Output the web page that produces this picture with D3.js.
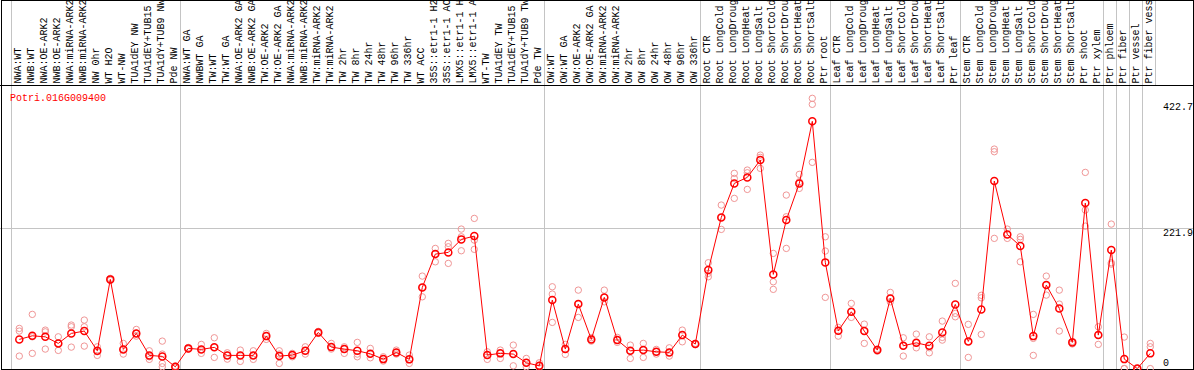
<!DOCTYPE html>
<html>
<head>
<meta charset="utf-8">
<script src="https://cdn.jsdelivr.net/npm/d3@7"></script>
<style>
  body { margin: 0; background: #fff; }
  svg { display: block; font-family: 'Liberation Mono', 'DejaVu Sans Mono', monospace; font-size: 10px; }
</style>
</head>
<body>
<div id="chart"></div>
<script>
const geneId = 'Potri.016G009400'

const samples = [
	'NWA:WT', 'NWB:WT', 'NWA:OE-ARK2', 'NWB:OE-ARK2', 'NWA:miRNA-ARK2', 'NWB:miRNA-ARK2', 'NW 0hr', 'WT H2O', 'WT-NW',
	'TUA1dEY NW', 'TUA1dEY+TUB15 NW', 'TUA1dY+TUB9 NW', 'Pde NW',
	'NWA:WT GA', 'NWBWT GA', 'TW:WT', 'TW:WT GA', 'NWA:OE-ARK2 GA', 'NWB:OE-ARK2 GA', 'TW:OE-ARK2', 'TW:OE-ARK2 GA',
	'NWA:miRNA-ARK2', 'NWB:miRNA-ARK2', 'TW:miRNA-ARK2', 'TW:miRNA-ARK2', 'TW 2hr', 'TW 8hr', 'TW 24hr', 'TW 48hr',
	'TW 96hr', 'TW 336hr', 'WT ACC', '35S::etr1-1 H2O', '35S::etr1-1 ACC', 'LMX5::etr1-1 H2O', 'LMX5::etr1-1 ACC',
	'WT-TW', 'TUA1dEY TW', 'TUA1dEY+TUB15 TW', 'TUA1dY+TUB9 TW', 'Pde TW',
	'OW:WT', 'OW:WT GA', 'OW:OE-ARK2', 'OW:OE-ARK2 GA', 'OW:miRNA-ARK2', 'OW:miRNA-ARK2', 'OW 2hr', 'OW 8hr',
	'OW 24hr', 'OW 48hr', 'OW 96hr', 'OW 336hr',
	'Root CTR', 'Root LongCold', 'Root LongDrought', 'Root LongHeat', 'Root LongSalt', 'Root ShortCold',
	'Root ShortDrought', 'Root ShortHeat', 'Root ShortSalt', 'Ptr root',
	'Leaf CTR', 'Leaf LongCold', 'Leaf LongDrought', 'Leaf LongHeat', 'Leaf LongSalt', 'Leaf ShortCold',
	'Leaf ShortDrought', 'Leaf ShortHeat', 'Leaf ShortSalt', 'Ptr leaf',
	'Stem CTR', 'Stem LongCold', 'Stem LongDrought', 'Stem LongHeat', 'Stem LongSalt', 'Stem ShortCold',
	'Stem ShortDrought', 'Stem ShortHeat', 'Stem ShortSalt', 'Ptr shoot', 'Ptr xylem',
	'Ptr phloem', 'Ptr fiber', 'Ptr vessel', 'Ptr fiber vessel'
]

const means = [
	46.2, 51.9, 50.3, 39.9, 55.7, 59.4, 28.2, 141.2, 30.4, 55.7, 20.9, 19.3, 2.8,
	32.0, 30.4, 33.6, 20.9, 20.9, 20.9, 51.4, 19.8, 21.4, 28.2, 57.3, 34.0, 30.9, 28.2, 23.4, 15.0,
	25.6, 14.6, 128.5, 181.2, 183.9, 204.5, 209.7, 21.4, 24.1, 23.0, 9.2, 4.4,
	108.4, 30.9, 102.1, 46.2, 112.7, 45.1, 28.2, 29.3, 26.6, 25.6, 53.0, 38.8,
	155.9, 239.3, 293.1, 302.6, 330.0, 149.1, 235.0, 293.1, 391.3, 168.1,
	59.8, 89.9, 59.4, 29.3, 111.1, 36.1, 40.8, 36.1, 57.3, 101.6,
	43.0, 93.7, 296.8, 212.4, 193.9, 51.4, 132.2, 95.3, 41.5, 261.9, 53.0,
	187.6, 15.0, 0, 24.1
]

const replicates = [
	[63.6, 59.4, 19.8], [85.8, 50.3, 24.1], [60.9, 58.2, 30.9], [50.3, 40.0, 28.8], [68.9, 66.2, 34.0],
	[76.8, 66.2, 35.6], [34.5, 26.6, 20.9], [142.8, 141.2, 139.6], [39.9, 30.4, 23.0], [62.0, 55.7, 51.4],
	[28.2, 18.7, 14.6], [43.5, 23.0, 8.2, 2.8], [4.0, 2.5, 1.5],
	[33.5, 31.5, 31.0], [38.3, 30.4, 24.1], [48.8, 33.6, 17.7], [25.0, 20.9, 15.0], [29.3, 20.9, 11.4],
	[28.2, 20.9, 14.6], [55.7, 51.4, 46.2], [28.2, 23.0, 8.2], [24.1, 21.4, 18.7], [34.5, 28.2, 23.0],
	[58.9, 57.3, 55.7], [39.9, 34.0, 30.9], [34.5, 30.9, 24.1], [41.5, 23.0, 18.7], [32.0, 23.4, 17.1],
	[18.7, 15.0, 11.9], [29.3, 25.6, 23.0], [21.4, 14.6, 8.2], [146.4, 128.5, 113.6], [190.2, 181.2, 169.0],
	[198.2, 192.8, 166.5], [220.8, 208.6, 186.5], [237.7, 203.4, 188.7], [26.6, 21.4, 14.6],
	[29.3, 24.1, 16.1], [37.2, 23.0, 4.4], [16.1, 9.2, 2.8], [9.2, 4.4, 1.3],
	[129.5, 117.9, 73.1], [38.3, 30.9, 22.5], [124.2, 102.1, 81.0], [49.0, 46.2, 43.5], [124.2, 112.7, 105.7],
	[49.4, 45.1, 41.5], [37.2, 28.2, 16.1], [39.9, 29.3, 17.7], [30.4, 26.6, 23.0], [32.9, 25.6, 19.8],
	[60.9, 53.0, 42.4], [40.0, 38.8, 38.0],
	[167.5, 150.7, 145.3], [258.8, 239.3, 220.3], [309.0, 301.0, 269.4], [314.2, 309.9, 283.6],
	[337.9, 334.3, 316.9], [182.3, 137.4, 125.4], [274.6, 240.3, 190.2], [307.4, 295.7, 285.2],
	[427.7, 418.2, 326.4], [208.6, 186.0, 112.7],
	[65.2, 59.8, 51.4], [103.2, 89.9, 81.0], [70.4, 59.4, 39.9], [30.9, 29.3, 27.6], [120.6, 111.1, 105.7],
	[48.8, 36.1, 19.8], [54.6, 40.8, 32.9], [50.3, 33.0, 25.0], [75.2, 49.4, 45.1], [134.9, 87.4, 82.0],
	[70.0, 43.0, 17.7], [116.0, 112.0, 54.1], [347.4, 343.2, 206.1], [220.8, 212.4, 206.1],
	[208.6, 204.5, 169.0], [85.8, 47.8, 20.9], [146.4, 132.2, 116.3], [124.2, 102.1, 59.4],
	[43.0, 41.5, 39.0], [310.5, 250.9, 225.5], [66.2, 53.0, 38.3],
	[228.7, 167.5, 165.4], [49.9, 0, 0], [0, 0, 0], [39.9, 34.5, 0]
]

// first sample index of each block (a grey separator is drawn before each)
const groupStarts = [0, 13, 41, 53, 63, 73, 84, 85, 86, 87]
const yTicks = [0, 221.9, 422.7]

const width = 1194
const height = 370
const headerH = 85
const bottom = 369

const x = d3.scaleBand().domain(d3.range(samples.length)).range([11, 1155])
const px = i => x(i) + 8.3
const y = d3.scaleLinear().domain([0, 422.7]).range([368.6, 101.5])

const svg = d3.select('#chart').append('svg')
	.attr('width', width)
	.attr('height', height)

// grey separators
svg.selectAll('.sep')
	.data(groupStarts)
	.enter()
	.append('line')
	.attr('class', 'sep')
	.attr('x1', d => x(d) + 0.5)
	.attr('x2', d => x(d) + 0.5)
	.attr('y1', 0)
	.attr('y2', bottom)
	.attr('stroke', '#c4c4c4')

svg.append('line')
	.attr('x1', x.range()[1] + 0.5)
	.attr('x2', x.range()[1] + 0.5)
	.attr('y1', 0)
	.attr('y2', headerH)
	.attr('stroke', '#c4c4c4')

// horizontal guide at the middle tick
svg.append('line')
	.attr('x1', 0)
	.attr('x2', width)
	.attr('y1', Math.round(y(yTicks[1])) + 0.5)
	.attr('y2', Math.round(y(yTicks[1])) + 0.5)
	.attr('stroke', '#c4c4c4')

// frame
svg.append('rect')
	.attr('x', 1.5)
	.attr('y', 0.5)
	.attr('width', 1192)
	.attr('height', bottom)
	.attr('fill', 'none')
	.attr('stroke', '#000')

svg.append('line')
	.attr('x1', 0)
	.attr('x2', width)
	.attr('y1', headerH + 0.5)
	.attr('y2', headerH + 0.5)
	.attr('stroke', '#000')

// sample labels, rotated
svg.selectAll('.lbl')
	.data(samples)
	.enter()
	.append('text')
	.attr('class', 'lbl')
	.attr('transform', (d, i) => `translate(${x(i) + 10},${headerH - 1.5}) rotate(-90)`)
	.attr('fill', '#000')
	.text(d => d)

svg.append('text')
	.attr('x', 10)
	.attr('y', 101)
	.attr('fill', '#ff0000')
	.text(geneId)

svg.selectAll('.tick')
	.data(yTicks)
	.enter()
	.append('text')
	.attr('class', 'tick')
	.attr('x', 1163)
	.attr('y', d => Math.min(y(d) + 8, 366))
	.attr('fill', '#000')
	.text(d => d)

// replicate values
const reps = []
replicates.forEach((r, i) => r.forEach(v => reps.push({ i, v })))

svg.selectAll('.rep')
	.data(reps)
	.enter()
	.append('circle')
	.attr('class', 'rep')
	.attr('cx', d => px(d.i))
	.attr('cy', d => y(d.v))
	.attr('r', 3.2)
	.attr('fill', 'none')
	.attr('stroke', '#f09696')
	.attr('stroke-width', 1)

const line = d3.line()
	.x((d, i) => px(i))
	.y(d => y(d))

svg.append('path')
	.datum(means)
	.attr('d', line)
	.attr('fill', 'none')
	.attr('stroke', '#ff0000')
	.attr('stroke-width', 1)

svg.selectAll('.mean')
	.data(means)
	.enter()
	.append('circle')
	.attr('class', 'mean')
	.attr('cx', (d, i) => px(i))
	.attr('cy', d => y(d))
	.attr('r', 3.5)
	.attr('fill', 'none')
	.attr('stroke', '#ff0000')
	.attr('stroke-width', 1.5)
</script>
</body>
</html>
